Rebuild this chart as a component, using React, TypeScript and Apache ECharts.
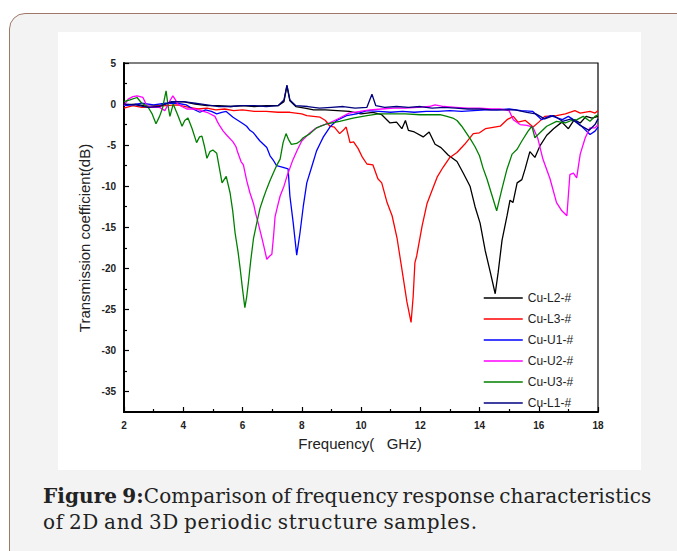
import React, { useEffect, useRef } from "react";
import * as echarts from "echarts";

const seriesNames = ["Cu-L2-#", "Cu-L3-#", "Cu-U1-#", "Cu-U2-#", "Cu-U3-#", "Cu-L1-#"];
const seriesColors = ["#000000", "#ff0000", "#0000ff", "#ff00ff", "#008000", "#000080"];

const yMajorTicks = [5, 0, -5, -10, -15, -20, -25, -30, -35];
const yMinorTicks = [2.5, -2.5, -7.5, -12.5, -17.5, -22.5, -27.5, -32.5];

const cuL2: number[][] = [
  [2.0, -0.1], [2.4, 0.0], [2.8, -0.3], [3.2, -0.2], [3.6, 0.2], [4.0, 0.3], [4.4, 0.0], [4.8, -0.2],
  [5.2, -0.2], [5.6, -0.3], [6.0, -0.2], [6.4, -0.3], [6.8, -0.2], [7.2, -0.2], [7.4, 0.3], [7.5, 2.2],
  [7.6, 0.4], [7.8, -0.3], [8.1, -0.5], [8.4, -0.7], [8.8, -0.7], [9.2, -0.8], [9.6, -0.9], [10.0, -1.2],
  [10.4, -1.0], [10.7, -1.3], [10.98, -2.3], [11.2, -2.2], [11.38, -3.0], [11.5, -2.0], [11.6, -3.2],
  [11.8, -3.4], [12.1, -4.0], [12.3, -3.4], [12.5, -4.9], [12.7, -5.3], [12.94, -6.2], [13.24, -7.0],
  [13.45, -8.4], [13.68, -10.0], [13.85, -12.5], [14.02, -14.5], [14.19, -17.8], [14.36, -20.4],
  [14.53, -23.1], [14.63, -20.5], [14.76, -16.6], [14.93, -13.6], [15.03, -11.7], [15.13, -12.0],
  [15.27, -9.6], [15.43, -9.2], [15.54, -7.9], [15.7, -5.8], [15.87, -6.5], [16.04, -5.1], [16.27, -3.8],
  [16.5, -3.0], [16.78, -2.2], [17.0, -3.0], [17.2, -1.9], [17.4, -2.3], [17.6, -1.5], [17.8, -1.7], [18.0, -1.5],
];

const cuL3: number[][] = [
  [2.0, -0.5], [2.3, -0.2], [2.6, -0.4], [3.0, -0.3], [3.4, -0.2], [3.8, -0.1], [4.2, -0.4], [4.5, -0.6],
  [4.8, -0.5], [5.1, -0.7], [5.4, -0.6], [5.7, -0.8], [6.0, -0.7], [6.4, -0.9], [6.8, -0.9], [7.2, -1.0],
  [7.6, -1.0], [8.0, -1.2], [8.17, -1.4], [8.62, -1.6], [8.8, -2.0], [8.95, -2.7], [9.1, -2.8], [9.28, -3.6],
  [9.4, -3.2], [9.5, -2.8], [9.63, -4.7], [9.75, -4.6], [9.9, -5.4], [10.05, -6.5], [10.2, -7.3], [10.4, -7.4],
  [10.57, -9.1], [10.7, -9.6], [10.88, -12.0], [11.05, -13.6], [11.22, -16.4], [11.38, -20.1], [11.55, -24.1],
  [11.69, -26.6], [11.76, -23.5], [11.82, -19.3], [11.88, -18.5], [12.06, -14.9], [12.23, -12.1], [12.4, -10.5],
  [12.57, -8.9], [12.77, -7.7], [13.0, -6.5], [13.24, -5.9], [13.5, -4.9], [13.79, -3.6], [14.0, -3.5],
  [14.2, -3.0], [14.36, -2.9], [14.7, -2.7], [14.93, -1.9], [15.14, -1.5], [15.3, -2.2], [15.55, -2.0],
  [15.81, -2.8], [16.0, -2.2], [16.2, -1.5], [16.6, -1.4], [16.9, -1.2], [17.22, -0.8], [17.4, -1.1],
  [17.73, -0.9], [17.9, -1.1], [18.0, -0.8],
];

const cuU1: number[][] = [
  [2.0, -0.2], [2.3, -0.1], [2.6, 0.1], [3.0, -0.1], [3.4, 0.1], [3.8, 0.1], [4.1, -0.1], [4.33, -0.6],
  [4.56, -1.0], [4.75, -0.7], [4.95, -0.9], [5.13, -1.2], [5.3, -1.0], [5.45, -0.9], [5.68, -1.6], [5.85, -2.0],
  [6.02, -2.4], [6.14, -2.7], [6.25, -3.2], [6.37, -3.5], [6.5, -4.1], [6.59, -4.5], [6.82, -5.3], [6.93, -6.3],
  [7.05, -6.9], [7.15, -7.5], [7.37, -7.7], [7.54, -7.9], [7.6, -11.2], [7.71, -14.4], [7.83, -18.4],
  [7.94, -15.7], [8.05, -12.5], [8.17, -9.6], [8.34, -7.6], [8.5, -5.7], [8.62, -4.8], [8.73, -4.0],
  [8.95, -2.8], [9.18, -2.0], [9.51, -1.4], [9.85, -1.2], [10.2, -0.8], [10.6, -0.9], [11.0, -1.0],
  [11.4, -0.9], [11.8, -1.0], [12.2, -0.9], [12.6, -0.9], [13.0, -0.8], [13.4, -0.9], [13.8, -0.8],
  [14.2, -0.7], [14.6, -0.7], [15.0, -0.6], [15.4, -0.8], [15.8, -0.9], [16.1, -1.9], [16.4, -1.4],
  [16.8, -1.9], [17.0, -1.5], [17.3, -2.2], [17.5, -2.9], [17.73, -3.7], [17.9, -3.3], [18.0, -2.8],
];

const cuU2: number[][] = [
  [2.0, -0.2], [2.14, 0.6], [2.3, 0.9], [2.44, 1.0], [2.64, 0.8], [2.77, -0.2], [2.98, -0.4], [3.2, -0.4],
  [3.38, -0.8], [3.55, 0.4], [3.65, 1.0], [3.72, 0.6], [3.82, 0.0], [3.95, -0.3], [4.12, -0.6], [4.4, -0.6],
  [4.6, -0.8], [4.8, -1.0], [5.07, -1.5], [5.16, -2.2], [5.24, -2.7], [5.35, -3.3], [5.47, -3.8], [5.68, -4.6],
  [5.78, -5.2], [5.85, -6.0], [5.95, -7.0], [6.03, -7.4], [6.14, -9.3], [6.25, -10.8], [6.37, -12.1],
  [6.45, -13.4], [6.53, -14.5], [6.62, -15.8], [6.7, -17.0], [6.82, -18.9], [6.92, -18.5], [6.99, -18.3],
  [7.05, -16.0], [7.1, -13.7], [7.18, -12.5], [7.27, -11.2], [7.4, -10.0], [7.5, -8.8], [7.6, -7.8],
  [7.7, -6.8], [7.85, -5.6], [8.0, -4.5], [8.14, -4.0], [8.28, -3.5], [8.45, -3.0], [8.62, -2.7],
  [8.95, -2.3], [9.28, -1.7], [9.6, -1.1], [9.96, -0.9], [10.3, -0.7], [10.7, -0.6], [11.1, -0.5],
  [11.5, -0.5], [11.9, -0.4], [12.3, -0.3], [12.5, -0.1], [12.8, -0.3], [13.2, -0.4], [13.6, -0.5],
  [14.0, -0.5], [14.4, -0.6], [14.7, -0.6], [15.0, -0.8], [15.14, -1.9], [15.37, -2.5], [15.6, -2.6],
  [15.8, -2.8], [15.97, -4.2], [16.14, -6.7], [16.38, -9.1], [16.6, -12.0], [16.78, -13.0], [16.95, -13.6],
  [17.05, -8.6], [17.17, -8.4], [17.28, -9.0], [17.4, -6.1], [17.57, -4.1], [17.73, -2.9], [17.9, -2.9], [18.0, -2.5],
];

const cuU3: number[][] = [
  [2.0, 0.3], [2.2, 0.5], [2.44, 0.8], [2.6, 0.1], [2.8, -0.3], [2.95, -1.2], [3.08, -2.4], [3.2, -1.5],
  [3.3, -0.5], [3.42, 1.6], [3.5, -0.5], [3.55, -1.5], [3.66, 0.0], [3.8, -1.2], [3.96, -2.7], [4.05, -2.0],
  [4.16, -1.7], [4.3, -3.0], [4.45, -4.7], [4.55, -4.0], [4.63, -3.9], [4.72, -5.2], [4.8, -6.6], [4.9, -5.8],
  [5.0, -5.6], [5.13, -6.0], [5.22, -7.8], [5.31, -9.6], [5.45, -8.8], [5.58, -10.8], [5.67, -13.0],
  [5.75, -15.7], [5.85, -18.0], [5.92, -20.0], [6.0, -22.5], [6.08, -24.8], [6.14, -23.5], [6.2, -21.7],
  [6.28, -19.0], [6.37, -16.4], [6.48, -14.5], [6.59, -12.7], [6.7, -11.5], [6.82, -10.3], [6.93, -9.3],
  [7.04, -8.4], [7.15, -7.5], [7.27, -6.7], [7.37, -4.7], [7.47, -3.6], [7.55, -4.3], [7.65, -4.9],
  [7.83, -4.8], [7.95, -4.5], [8.05, -4.1], [8.28, -3.6], [8.5, -2.9], [8.85, -2.4], [9.28, -2.1],
  [9.73, -1.7], [10.2, -1.4], [10.6, -1.2], [11.0, -1.2], [11.5, -1.2], [12.0, -1.3], [12.4, -1.3],
  [12.67, -1.3], [12.9, -1.5], [13.1, -1.7], [13.24, -2.0], [13.4, -2.7], [13.57, -3.6], [13.7, -4.3],
  [13.85, -5.2], [14.0, -6.3], [14.12, -7.8], [14.25, -9.1], [14.42, -11.1], [14.58, -13.0], [14.76, -10.3],
  [14.93, -7.9], [15.1, -6.1], [15.27, -5.5], [15.43, -4.5], [15.64, -3.3], [15.77, -2.7], [15.87, -4.1],
  [16.04, -3.5], [16.27, -2.7], [16.6, -2.1], [16.9, -2.3], [17.1, -2.0], [17.29, -1.9], [17.5, -1.5],
  [17.73, -2.1], [17.9, -1.5], [18.0, -1.3],
];

const cuL1: number[][] = [
  [2.0, 0.0], [2.4, -0.1], [2.8, -0.4], [3.2, -0.3], [3.6, 0.3], [4.0, 0.3], [4.4, 0.1], [4.8, -0.1],
  [5.2, -0.3], [5.6, -0.3], [6.0, -0.2], [6.4, -0.2], [6.8, -0.3], [7.2, -0.2], [7.4, 0.5], [7.5, 2.3],
  [7.6, 0.5], [7.8, -0.2], [8.2, -0.3], [8.6, -0.5], [9.0, -0.4], [9.4, -0.3], [9.8, -0.5], [10.2, -0.4],
  [10.37, 1.2], [10.5, -0.2], [10.8, -0.4], [11.2, -0.3], [11.6, -0.4], [12.0, -0.3], [12.4, -0.5],
  [12.8, -0.4], [13.2, -0.5], [13.6, -0.6], [14.0, -0.6], [14.4, -0.7], [14.8, -0.7], [15.2, -0.7],
  [15.6, -1.0], [15.9, -1.2], [16.2, -1.8], [16.5, -1.4], [16.8, -2.1], [17.1, -1.8], [17.4, -2.6],
  [17.7, -3.2], [17.9, -2.5], [18.0, -1.8],
];

const seriesData = [cuL2, cuL3, cuU1, cuU2, cuU3, cuL1];

export default function App() {
  const ref = useRef<HTMLDivElement>(null);

  useEffect(() => {
    if (!ref.current) return;
    const chart = echarts.init(ref.current, null, { renderer: "svg" });
    const axisFont = { fontFamily: "Liberation Sans, Arial, sans-serif", fontSize: 10, color: "#222", fontWeight: "bold" as const };
    chart.setOption({
      animation: false,
      backgroundColor: "#ffffff",
      grid: {
        left: 66,
        top: 31,
        right: 43,
        bottom: 58,
        show: true,
        borderColor: "#000",
        borderWidth: 1.2,
        containLabel: false,
      },
      legend: {
        orient: "vertical",
        left: 420,
        top: 255,
        itemWidth: 39,
        itemHeight: 14,
        itemGap: 9,
        data: seriesNames,
        itemStyle: { opacity: 0 },
        lineStyle: { width: 1.5 },
        textStyle: { fontFamily: "Liberation Sans, Arial, sans-serif", fontSize: 12, color: "#222", padding: [0, 0, 0, 0] },
      },
      xAxis: {
        type: "value",
        min: 2,
        max: 18,
        interval: 2,
        axisLine: { show: true, onZero: false, lineStyle: { color: "#000", width: 2 } },
        axisTick: { show: true, inside: true, length: 5, lineStyle: { color: "#000", width: 1.2 } },
        minorTick: { show: true, splitNumber: 2, length: 3, lineStyle: { color: "#000", width: 1.2 } },
        axisLabel: { ...axisFont, margin: 8 },
        splitLine: { show: false },
        minorSplitLine: { show: false },
      },
      yAxis: [
        {
          type: "value",
          min: -37.5,
          max: 5,
          axisLine: { show: true, onZero: false, lineStyle: { color: "#000", width: 2 } },
          axisTick: { show: true, inside: true, length: 5, customValues: yMajorTicks, lineStyle: { color: "#000", width: 1.2 } },
          axisLabel: { ...axisFont, margin: 8, customValues: yMajorTicks },
          splitLine: { show: false },
        },
        {
          type: "value",
          min: -37.5,
          max: 5,
          position: "left",
          axisLine: { show: false },
          axisTick: { show: true, inside: true, length: 3, customValues: yMinorTicks, lineStyle: { color: "#000", width: 1.2 } },
          axisLabel: { show: false },
          splitLine: { show: false },
        },
      ],
      graphic: [
        {
          type: "text",
          x: 302,
          y: 411,
          style: {
            text: "Frequency(   GHz)",
            fontFamily: "Liberation Sans, Arial, sans-serif",
            fontSize: 15,
            fill: "#222",
            textAlign: "center",
            textVerticalAlign: "middle",
          },
        },
        {
          type: "text",
          x: 26,
          y: 206,
          rotation: Math.PI / 2,
          style: {
            text: "Transmission coefficient(dB)",
            fontFamily: "Liberation Sans, Arial, sans-serif",
            fontSize: 15,
            fill: "#222",
            textAlign: "center",
            textVerticalAlign: "middle",
          },
        },
      ],
      series: seriesNames.map((name, i) => ({
        name,
        type: "line",
        data: seriesData[i],
        showSymbol: false,
        symbol: "none",
        color: seriesColors[i],
        lineStyle: { color: seriesColors[i], width: 1.3 },
        z: 2 + i,
      })),
    });
    return () => chart.dispose();
  }, []);

  return (
    <div style={{ position: "fixed", left: 0, top: 0, width: 677, height: 551, background: "#ffffff", overflow: "hidden" }}>
      <div
        style={{
          position: "absolute",
          left: 9,
          top: 13,
          width: 720,
          height: 560,
          background: "#f3f3f3",
          border: "1.5px solid #a07868",
          borderRadius: 16,
        }}
      />
      <div style={{ position: "absolute", left: 58, top: 32, width: 583, height: 438, background: "#fff" }}>
        <div ref={ref} style={{ width: 583, height: 438 }} />
      </div>
      <div
        style={{
          position: "absolute",
          left: 43,
          top: 483,
          width: 634,
          fontFamily: "'DejaVu Serif', serif",
          fontSize: 20,
          lineHeight: "26px",
          color: "#222",
          whiteSpace: "nowrap",
          wordSpacing: -2,
        }}
      >
        <div style={{ letterSpacing: 0.1 }}>
          <b>Figure 9:</b>Comparison of frequency response characteristics
        </div>
        <div style={{ letterSpacing: 0.7 }}>of 2D and 3D periodic structure samples.</div>
      </div>
    </div>
  );
}
